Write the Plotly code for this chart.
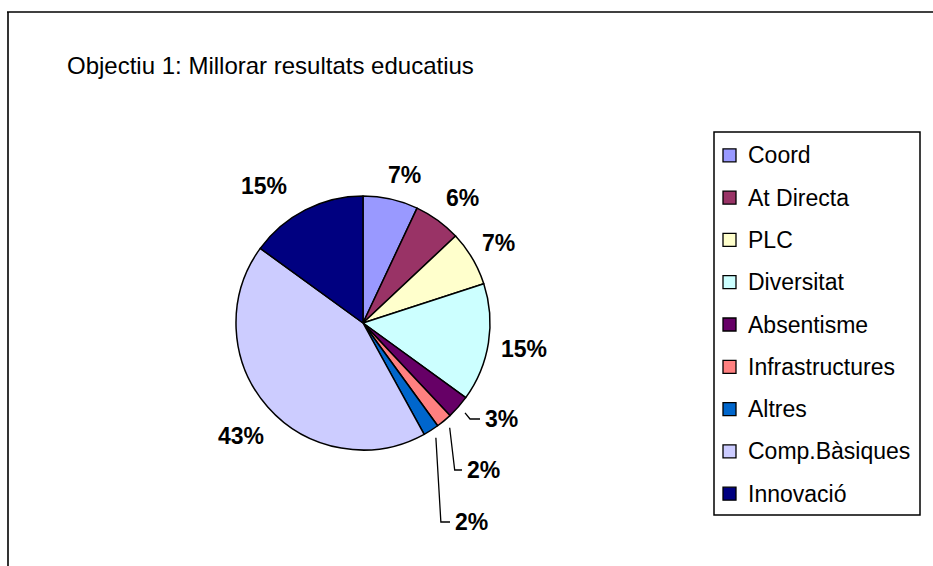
import math
import plotly.graph_objects as go

# ---- data -------------------------------------------------------------
categories = ["Coord", "At Directa", "PLC", "Diversitat", "Absentisme",
              "Infrastructures", "Altres", "Comp.Bàsiques", "Innovació"]
values = [7, 6, 7, 15, 3, 2, 2, 43, 15]
colors = ["#9999FF", "#993366", "#FFFFCC", "#CCFFFF", "#660066",
          "#FF8080", "#0066CC", "#CCCCFF", "#000080"]
title_text = "Objectiu 1: Millorar resultats educatius"

# ---- layout (pixels of a 933 x 566 canvas) ----------------------------
W, H = 933, 566
CX, CY, R = 363, 323, 127          # pie centre and radius
FONT = "Liberation Sans, Arial, sans-serif"
LABEL_SIZE = 23
LABEL_GAP = 12

# small slices whose labels are dropped below the pie with a leader line
dropped_labels = {"Absentisme": (483, 419),
                  "Infrastructures": (465, 470),
                  "Altres": (453, 522)}
# fine tuning of the remaining label positions
label_nudge = {"Coord": (8, 0), "At Directa": (8, 1),
               "Innovació": (-28, 3), "Comp.Bàsiques": (0, 6)}


def px(x):
    return x / W


def py(y):
    return 1 - y / H


fig = go.Figure(go.Pie(
    labels=categories,
    values=values,
    sort=False,
    direction="clockwise",
    rotation=0,
    marker=dict(colors=colors, line=dict(color="black", width=1.5)),
    textinfo="none",
    hoverinfo="label+percent",
    showlegend=False,
    domain=dict(x=[px(CX - R), px(CX + R)], y=[py(CY + R), py(CY - R)]),
))

annotations = []
shapes = []

# percentage labels around the pie
total = sum(values)
cum = 0.0
for name, v in zip(categories, values):
    pct = v / total
    mid = (cum + pct / 2) * 2 * math.pi
    cum += pct
    s, c = math.sin(mid), math.cos(mid)
    text = f"{round(pct * 100)}%"
    half_w = (0.556 * (len(text) - 1) + 0.889) * LABEL_SIZE / 2
    half_h = 9
    if name in dropped_labels:
        lx, ly = dropped_labels[name]
        sx, sy = CX + (R + 9) * s, CY - (R + 9) * c
        shapes.append(dict(
            type="path", xref="paper", yref="paper",
            path=(f"M {px(sx)} {py(sy)} L {px(sx + 5)} {py(ly)} "
                  f"L {px(lx - 3)} {py(ly)}"),
            line=dict(color="black", width=1.3)))
        annotations.append(dict(
            x=px(lx), y=py(ly), xref="paper", yref="paper",
            xanchor="left", yanchor="middle", showarrow=False, text=text,
            font=dict(family=FONT, size=LABEL_SIZE, color="black",
                      weight="bold")))
    else:
        d = R + LABEL_GAP + abs(half_w * s) + abs(half_h * c)
        dx, dy = label_nudge.get(name, (0, 0))
        lx, ly = CX + d * s + dx, CY - d * c + dy
        annotations.append(dict(
            x=px(lx), y=py(ly), xref="paper", yref="paper",
            xanchor="center", yanchor="middle", showarrow=False, text=text,
            font=dict(family=FONT, size=LABEL_SIZE, color="black",
                      weight="bold")))

# title
annotations.append(dict(
    x=px(65), y=py(66), xref="paper", yref="paper", xanchor="left",
    yanchor="middle", showarrow=False, text=title_text,
    font=dict(family=FONT, size=24, color="black")))

# legend box with swatches
LEG_X0, LEG_Y0, LEG_X1, LEG_Y1 = 714, 132, 920, 515
ITEM_Y0, ITEM_STEP = 155.3, 42.3
shapes.append(dict(type="rect", xref="paper", yref="paper",
                   x0=px(LEG_X0), x1=px(LEG_X1), y0=py(LEG_Y1), y1=py(LEG_Y0),
                   line=dict(color="black", width=1.5), fillcolor="white",
                   layer="below"))
for i, (name, col) in enumerate(zip(categories, colors)):
    yc = ITEM_Y0 + i * ITEM_STEP
    shapes.append(dict(type="rect", xref="paper", yref="paper",
                       x0=px(723), x1=px(736), y0=py(yc + 6.5), y1=py(yc - 6.5),
                       line=dict(color="black", width=1.3), fillcolor=col))
    annotations.append(dict(
        x=px(746), y=py(yc), xref="paper", yref="paper", xanchor="left",
        yanchor="middle", showarrow=False, text=name,
        font=dict(family=FONT, size=23, color="black")))

# chart-area frame (top and left edges)
shapes.append(dict(type="line", xref="paper", yref="paper",
                   x0=px(7), x1=px(933), y0=py(12), y1=py(12),
                   line=dict(color="black", width=1.6)))
shapes.append(dict(type="line", xref="paper", yref="paper",
                   x0=px(8), x1=px(8), y0=py(12), y1=py(566),
                   line=dict(color="black", width=1.6)))

fig.update_layout(
    width=W, height=H,
    margin=dict(l=0, r=0, t=0, b=0),
    paper_bgcolor="white", plot_bgcolor="white",
    showlegend=False,
    annotations=annotations,
    shapes=shapes,
)

fig.write_html("out.html", config={"displayModeBar": False})
